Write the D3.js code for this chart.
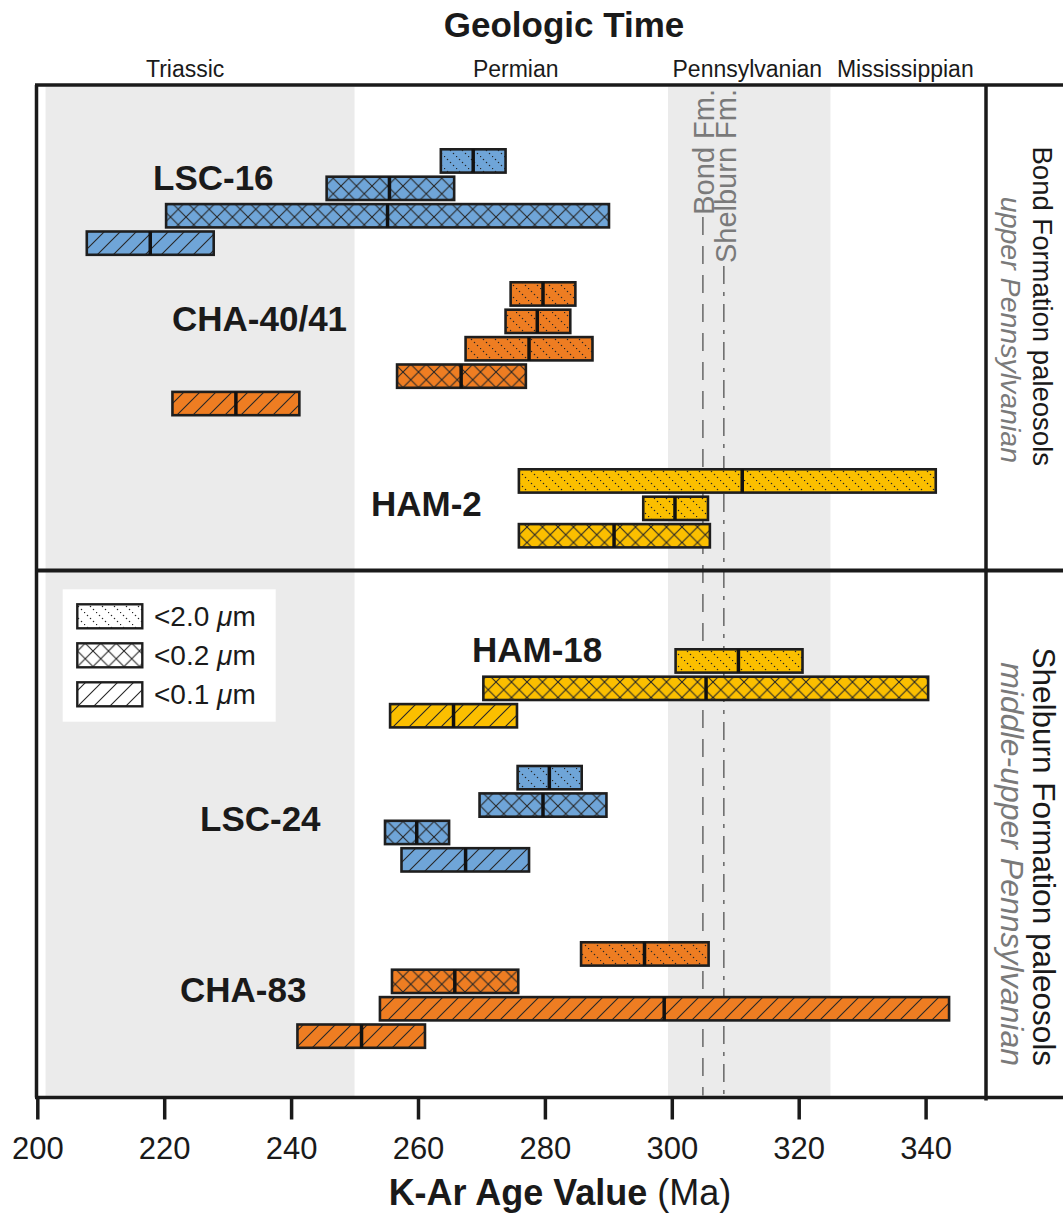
<!DOCTYPE html>
<html><head><meta charset="utf-8">
<script src="https://cdn.jsdelivr.net/npm/d3@7"></script>
<style>body{margin:0;background:#fff}svg{display:block;font-family:"Liberation Sans",Arial,Helvetica,sans-serif}</style>
</head><body><svg id="c" width="1063" height="1223"></svg>
<script>
// ---------------- DATA ----------------
const samples = ["LSC-16", "CHA-40/41", "HAM-2", "HAM-18", "LSC-24", "CHA-83"];
const sampleColorKey = ["blue", "orange", "yellow", "yellow", "blue", "orange"];

// one entry per bar (top to bottom within each sample)
const barSample   = [0,0,0,0, 1,1,1,1,1, 2,2,2, 3,3,3, 4,4,4,4, 5,5,5,5];
const barFraction = ["<2.0","<0.2","<0.2","<0.1",
                     "<2.0","<2.0","<2.0","<0.2","<0.1",
                     "<2.0","<2.0","<0.2",
                     "<2.0","<0.2","<0.1",
                     "<2.0","<0.2","<0.2","<0.1",
                     "<2.0","<0.2","<0.1","<0.1"];
const barMin = [263.6, 245.6, 220.3, 207.8,
                274.6, 273.8, 267.5, 256.7, 221.3,
                275.9, 295.5, 275.9,
                300.6, 270.3, 255.6,
                275.7, 269.7, 254.8, 257.4,
                285.7, 255.9, 254.0, 241.0];
const barAge = [268.7, 255.5, 255.2, 217.8,
                279.7, 278.8, 277.5, 266.8, 231.3,
                311.1, 300.5, 290.9,
                310.5, 305.4, 265.6,
                280.7, 279.7, 259.8, 267.5,
                295.7, 265.8, 298.8, 251.1];
const barMax = [273.8, 265.7, 290.1, 227.8,
                284.8, 284.0, 287.5, 277.0, 241.3,
                341.6, 305.7, 306.0,
                320.6, 340.4, 275.6,
                285.8, 289.7, 264.9, 277.5,
                305.8, 275.8, 343.7, 261.1];

const fractions = ["<2.0", "<0.2", "<0.1"];
const fractionLabel = ["<2.0 ", "<0.2 ", "<0.1 "];

const periodNames = ["Triassic", "Permian", "Pennsylvanian", "Mississippian"];
const periodLabelAge = [223.3, 275.4, 311.9, 336.8];
const shadedBands = [[201.3, 250.0], [299.4, 325.0]];

const formationLineNames = ["Bond Fm.", "Shelburn Fm."];
const formationLineAge = [304.9, 308.2];

const panelNames = ["Bond Formation paleosols", "Shelburn Formation paleosols"];
const panelAges = ["upper Pennsylvanian", "middle-upper Pennsylvanian"];

const tickValues = [200, 220, 240, 260, 280, 300, 320, 340];

// ---------------- LAYOUT / STYLE ----------------
const colors = {blue: "#6fa5d8", orange: "#ee7d22", yellow: "#fbbf00"};
const groupTop = [149.3, 282.3, 469.3, 649.3, 766, 942.3];
const groupLabelX = [153, 172, 371, 472, 200, 180];
const groupLabelY = [189.5, 331, 516, 662, 831, 1002];
const pitch = 27.4, barH = 23.3;
const frameTop = 85, frameMid = 570.5, axisY = 1097.5, frameRight = 986, frameLeft = 36.5;

const svg = d3.select("#c");
const x = d3.scaleLinear().domain([200, 340]).range([37.3, 925.6]);

// patterns
const defs = svg.append("defs");
const ink = "#262626";
{
  const s = 12;
  const p = defs.append("pattern").attr("id", "pat-<2.0").attr("patternUnits", "userSpaceOnUse")
    .attr("width", s).attr("height", s);
  [0, 3, 6, 9].forEach(t => p.append("circle").attr("cx", t + 0.5).attr("cy", t + 0.5).attr("r", 0.75).attr("fill", ink));
}
{
  const s = 15.5;
  const p = defs.append("pattern").attr("id", "pat-<0.2").attr("patternUnits", "userSpaceOnUse")
    .attr("width", s).attr("height", s);
  p.append("path").attr("d", `M0,0L${s},${s}M0,${s}L${s},0`).attr("stroke", ink).attr("stroke-width", 1.1).attr("fill", "none");
}
{
  const s = 16;
  const p = defs.append("pattern").attr("id", "pat-<0.1").attr("patternUnits", "userSpaceOnUse")
    .attr("width", s).attr("height", s);
  p.append("path").attr("d", `M0,${s}L${s},0M-4,4L4,-4M${s-4},${s+4}L${s+4},${s-4}`)
    .attr("stroke", ink).attr("stroke-width", 1.1).attr("fill", "none");
}

// shaded period bands
svg.append("g").selectAll("rect").data(shadedBands).join("rect")
  .attr("x", d => x(d[0])).attr("width", d => x(d[1]) - x(d[0]))
  .attr("y", frameTop + 1.5).attr("height", axisY - frameTop - 3)
  .attr("fill", "#ebebeb");

// formation reference lines
const dashes = ["18,11", "18,8,4,8"];
const lineStart = [217, 266];
formationLineAge.forEach((a, i) => {
  svg.append("line").attr("x1", x(a)).attr("x2", x(a)).attr("y1", lineStart[i]).attr("y2", axisY - 2)
    .attr("stroke", "#6e6e6e").attr("stroke-width", 1.6).attr("stroke-dasharray", dashes[i]);
});
const flBaseX = [714, 736];
formationLineNames.forEach((n, i) => {
  svg.append("text").attr("transform", `translate(${flBaseX[i]},89) rotate(-90)`)
    .attr("text-anchor", "end").attr("font-size", 29).attr("fill", "#7a7a7a").text(n);
});

// frame
const fr = svg.append("g").attr("stroke", "#1a1a1a").attr("fill", "none");
fr.append("line").attr("x1", frameLeft - 1.5).attr("x2", 1063).attr("y1", frameTop).attr("y2", frameTop).attr("stroke-width", 3.5);
fr.append("line").attr("x1", frameLeft).attr("x2", 1063).attr("y1", frameMid).attr("y2", frameMid).attr("stroke-width", 4);
fr.append("line").attr("x1", frameLeft - 1.5).attr("x2", 1063).attr("y1", axisY).attr("y2", axisY).attr("stroke-width", 3.5);
fr.append("line").attr("x1", frameLeft).attr("x2", frameLeft).attr("y1", frameTop).attr("y2", axisY).attr("stroke-width", 3.5);
fr.append("line").attr("x1", frameRight).attr("x2", frameRight).attr("y1", frameTop).attr("y2", axisY + 3).attr("stroke-width", 3.5);

// axis
const axis = svg.append("g").attr("transform", `translate(0,${axisY})`)
  .call(d3.axisBottom(x).tickValues(tickValues).tickSize(22).tickSizeOuter(0).tickPadding(17));
axis.select(".domain").remove();
axis.selectAll(".tick line").attr("stroke", "#1a1a1a").attr("stroke-width", 3.5);
axis.selectAll(".tick text").attr("font-size", 31).attr("fill", "#1a1a1a")
  .attr("font-family", '"Liberation Sans",Arial,sans-serif');

// axis title
const at = svg.append("text").attr("x", 560).attr("y", 1205).attr("text-anchor", "middle")
  .attr("font-size", 36).attr("fill", "#1a1a1a");
at.append("tspan").attr("font-weight", "bold").text("K-Ar Age Value");
at.append("tspan").text(" (Ma)");

// top title and periods
svg.append("text").attr("x", 564).attr("y", 37).attr("text-anchor", "middle")
  .attr("font-size", 35).attr("font-weight", "bold").attr("fill", "#1a1a1a").text("Geologic Time");
svg.append("g").selectAll("text").data(periodNames).join("text")
  .attr("x", (d, i) => x(periodLabelAge[i])).attr("y", 77).attr("text-anchor", "middle")
  .attr("font-size", 23).attr("fill", "#1a1a1a").text(d => d);

// bars
const rowIndex = [];
{
  const cnt = {};
  barSample.forEach((s) => { cnt[s] = (cnt[s] || 0); rowIndex.push(cnt[s]); cnt[s]++; });
}
const bars = barAge.map((a, i) => ({
  s: barSample[i], frac: barFraction[i], lo: barMin[i], val: a, hi: barMax[i],
  y: groupTop[barSample[i]] + rowIndex[i] * pitch
}));
const bg = svg.append("g");
const bar = bg.selectAll("g").data(bars).join("g");
bar.append("rect").attr("x", d => x(d.lo)).attr("width", d => x(d.hi) - x(d.lo))
  .attr("y", d => d.y).attr("height", barH)
  .attr("fill", d => colors[sampleColorKey[d.s]]);
bar.append("rect").attr("x", d => x(d.lo)).attr("width", d => x(d.hi) - x(d.lo))
  .attr("y", d => d.y).attr("height", barH)
  .attr("fill", d => `url(#pat-${d.frac})`)
  .attr("stroke", "#1e1e1e").attr("stroke-width", 2.6);
bar.append("line").attr("x1", d => x(d.val)).attr("x2", d => x(d.val))
  .attr("y1", d => d.y).attr("y2", d => d.y + barH)
  .attr("stroke", "#111").attr("stroke-width", 3.5);

// sample labels
svg.append("g").selectAll("text").data(samples).join("text")
  .attr("x", (d, i) => groupLabelX[i]).attr("y", (d, i) => groupLabelY[i])
  .attr("font-size", 35).attr("font-weight", "bold").attr("fill", "#1a1a1a").text(d => d);

// legend
const lg = svg.append("g");
lg.append("rect").attr("x", 62.7).attr("y", 589.3).attr("width", 213).attr("height", 132.4).attr("fill", "#fff");
fractions.forEach((f, i) => {
  const yy = 604.3 + i * 39;
  lg.append("rect").attr("x", 77.3).attr("y", yy).attr("width", 65).attr("height", 24).attr("fill", "#fff");
  lg.append("rect").attr("x", 77.3).attr("y", yy).attr("width", 65).attr("height", 24)
    .attr("fill", `url(#pat-${f})`).attr("stroke", "#1e1e1e").attr("stroke-width", 2.4);
  const t = lg.append("text").attr("x", 154).attr("y", yy + 22).attr("font-size", 28).attr("fill", "#1a1a1a");
  t.append("tspan").text(fractionLabel[i]);
  t.append("tspan").attr("font-style", "italic").text("\u03bc");
  t.append("tspan").text("m");
});

// right side formation labels (rotated, reading downward)
const rlX = [1033, 1001];
const rlEnd = [[466, 463], [1066, 1066]];
const rlSize = [[27.5, 28.5], [31.5, 32]];
panelNames.forEach((n, p) => {
  svg.append("text").attr("transform", `translate(${rlX[0]},${rlEnd[p][0]}) rotate(90)`)
    .attr("text-anchor", "end").attr("font-size", rlSize[p][0]).attr("fill", "#1a1a1a").text(n);
  svg.append("text").attr("transform", `translate(${rlX[1]},${rlEnd[p][1]}) rotate(90)`)
    .attr("text-anchor", "end").attr("font-size", rlSize[p][1]).attr("font-style", "italic")
    .attr("fill", "#7a7a7a").text(panelAges[p]);
});
</script></body></html>
